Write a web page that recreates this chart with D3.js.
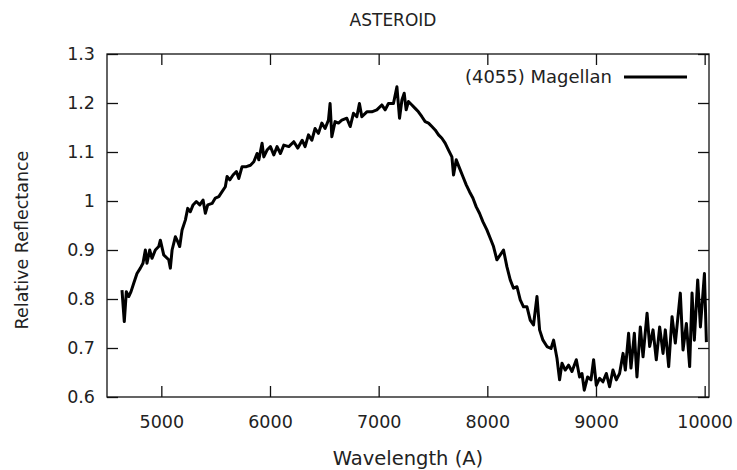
<!doctype html>
<html lang="en">
<head>
<meta charset="UTF-8">
<script src="https://cdnjs.cloudflare.com/ajax/libs/d3/7.8.5/d3.min.js"></script>
<title>ASTEROID</title>
<style>
  body { margin: 0; background: #fff; }
  text { font-family: "DejaVu Sans", sans-serif; fill: #222; }
</style>
</head>
<body>
<div id="viz_area"></div>
<script>
    // wavelength (A) and relative reflectance
    const wavelength = [4638, 4659, 4678, 4700, 4721, 4746, 4776, 4807, 4831, 4853, 4868, 4893, 4914, 4945, 4976,
        4991, 5022, 5068, 5083, 5099, 5129, 5151, 5169, 5191, 5221, 5243, 5267, 5292, 5322, 5354,
        5384, 5405, 5427, 5467, 5497, 5529, 5559, 5589, 5605, 5630, 5660, 5691, 5713, 5743, 5783,
        5820, 5851, 5881, 5897, 5927, 5943, 5973, 6004, 6035, 6065, 6096, 6127, 6173, 6219, 6256,
        6296, 6323, 6354, 6385, 6415, 6446, 6477, 6507, 6538, 6553, 6569, 6599, 6630, 6661, 6707,
        6738, 6768, 6799, 6823, 6845, 6891, 6937, 6983, 7029, 7060, 7090, 7136, 7168, 7192, 7214,
        7235, 7253, 7274, 7306, 7336, 7366, 7398, 7428, 7459, 7490, 7520, 7551, 7582, 7612, 7643,
        7674, 7689, 7714, 7744, 7775, 7806, 7836, 7867, 7898, 7928, 7959, 7996, 8027, 8057, 8088,
        8119, 8149, 8180, 8211, 8241, 8273, 8303, 8333, 8365, 8395, 8425, 8457, 8481, 8512, 8549,
        8586, 8610, 8641, 8665, 8687, 8717, 8748, 8779, 8819, 8849, 8871, 8892, 8923, 8954, 8978,
        9003, 9033, 9064, 9095, 9125, 9156, 9187, 9217, 9249, 9270, 9300, 9322, 9353, 9377, 9408,
        9433, 9470, 9494, 9525, 9555, 9586, 9617, 9638, 9669, 9700, 9730, 9776, 9801, 9832, 9862,
        9884, 9905, 9936, 9961, 9998, 10016];
    const reflectance = [0.818, 0.754, 0.815, 0.805, 0.815, 0.832, 0.852, 0.863, 0.873, 0.900, 0.873, 0.900, 0.883, 0.900, 0.907,
        0.920, 0.890, 0.880, 0.863, 0.900, 0.927, 0.917, 0.907, 0.941, 0.961, 0.985, 0.978, 0.992, 0.999, 0.992,
        1.002, 0.975, 0.992, 0.995, 1.006, 1.009, 1.019, 1.029, 1.050, 1.043, 1.053, 1.060, 1.046, 1.070, 1.070,
        1.073, 1.080, 1.097, 1.084, 1.118, 1.090, 1.104, 1.111, 1.094, 1.111, 1.097, 1.114, 1.111, 1.121, 1.108,
        1.124, 1.111, 1.135, 1.124, 1.148, 1.138, 1.159, 1.148, 1.165, 1.199, 1.131, 1.162, 1.159, 1.165, 1.169,
        1.152, 1.179, 1.172, 1.199, 1.172, 1.182, 1.182, 1.186, 1.196, 1.186, 1.199, 1.199, 1.233, 1.169, 1.206,
        1.220, 1.186, 1.203, 1.196, 1.189, 1.182, 1.172, 1.162, 1.159, 1.152, 1.145, 1.135, 1.128, 1.118, 1.104,
        1.090, 1.053, 1.084, 1.067, 1.050, 1.033, 1.019, 1.006, 0.988, 0.975, 0.958, 0.941, 0.924, 0.907, 0.880,
        0.890, 0.900, 0.866, 0.839, 0.822, 0.825, 0.798, 0.784, 0.784, 0.757, 0.747, 0.805, 0.737, 0.716, 0.703,
        0.699, 0.716, 0.679, 0.635, 0.669, 0.655, 0.665, 0.652, 0.676, 0.641, 0.648, 0.614, 0.641, 0.635, 0.676,
        0.624, 0.638, 0.631, 0.648, 0.621, 0.655, 0.635, 0.648, 0.689, 0.655, 0.730, 0.659, 0.730, 0.641, 0.743,
        0.682, 0.771, 0.703, 0.737, 0.676, 0.743, 0.689, 0.737, 0.662, 0.764, 0.710, 0.812, 0.696, 0.750, 0.662,
        0.812, 0.716, 0.839, 0.743, 0.852, 0.712];

    const xTicks = [5000, 6000, 7000, 8000, 9000, 10000];
    const yTicks = [0.6, 0.7, 0.8, 0.9, 1.0, 1.1, 1.2, 1.3];
    const seriesName = "(4055) Magellan";

    const W = 737, H = 470;
    const margin = {top: 54, right: 28, bottom: 73, left: 107},
        width = W - margin.left - margin.right,
        height = H - margin.top - margin.bottom;

    const svg = d3.select('#viz_area')
        .append("svg")
        .attr("width", W)
        .attr("height", H);

    const g = svg.append("g")
        .attr("transform", `translate(${margin.left},${margin.top})`);

    const x = d3.scaleLinear().domain([4500, 10040]).range([0, width]);
    const y = d3.scaleLinear().domain([0.6, 1.3]).range([height, 0]);

    const tick = 11;

    // bottom + top
    g.append("g")
        .attr("class", "axis")
        .attr("transform", `translate(0,${height})`)
        .call(d3.axisBottom(x).tickValues(xTicks).tickSizeInner(-tick).tickSizeOuter(0)
            .tickPadding(19).tickFormat(d3.format("d")));
    g.append("g")
        .attr("class", "axis")
        .call(d3.axisTop(x).tickValues(xTicks).tickSizeInner(-tick).tickSizeOuter(0).tickFormat(""));

    // left + right
    g.append("g")
        .attr("class", "axis")
        .call(d3.axisLeft(y).tickValues(yTicks).tickSizeInner(-tick).tickSizeOuter(0)
            .tickPadding(12).tickFormat(d => d === 1 ? "1" : d3.format(".1f")(d)));
    g.append("g")
        .attr("class", "axis")
        .attr("transform", `translate(${width},0)`)
        .call(d3.axisRight(y).tickValues(yTicks).tickSizeInner(-tick).tickSizeOuter(0).tickFormat(""));

    g.selectAll(".axis .domain").remove();
    g.selectAll(".axis line").attr("stroke", "#111").attr("stroke-width", 1.3);
    g.selectAll(".axis text")
        .attr("font-family", "DejaVu Sans, sans-serif")
        .attr("font-size", 17.5)
        .attr("fill", "#222");

    g.append("rect")
        .attr("width", width)
        .attr("height", height)
        .attr("fill", "none")
        .attr("stroke", "#111")
        .attr("stroke-width", 1.3);

    const line = d3.line()
        .x((d, i) => x(wavelength[i]))
        .y(d => y(d));

    g.append("path")
        .datum(reflectance)
        .attr("fill", "none")
        .attr("stroke", "#000")
        .attr("stroke-width", 3)
        .attr("stroke-linejoin", "round")
        .attr("d", line);

    // legend
    g.append("text")
        .attr("x", 505)
        .attr("y", 29)
        .attr("text-anchor", "end")
        .attr("font-size", 18)
        .text(seriesName);
    g.append("line")
        .attr("x1", 517).attr("x2", 580)
        .attr("y1", 23).attr("y2", 23)
        .attr("stroke", "#000")
        .attr("stroke-width", 2.8);

    // titles
    svg.append("text")
        .attr("x", 393).attr("y", 26)
        .attr("text-anchor", "middle")
        .attr("font-size", 17)
        .text("ASTEROID");

    svg.append("text")
        .attr("x", 408).attr("y", 465)
        .attr("text-anchor", "middle")
        .attr("font-size", 19.5)
        .text("Wavelength (A)");

    svg.append("text")
        .attr("transform", "translate(28,240) rotate(-90)")
        .attr("text-anchor", "middle")
        .attr("font-size", 17.5)
        .text("Relative Reflectance");
</script>
</body>
</html>
